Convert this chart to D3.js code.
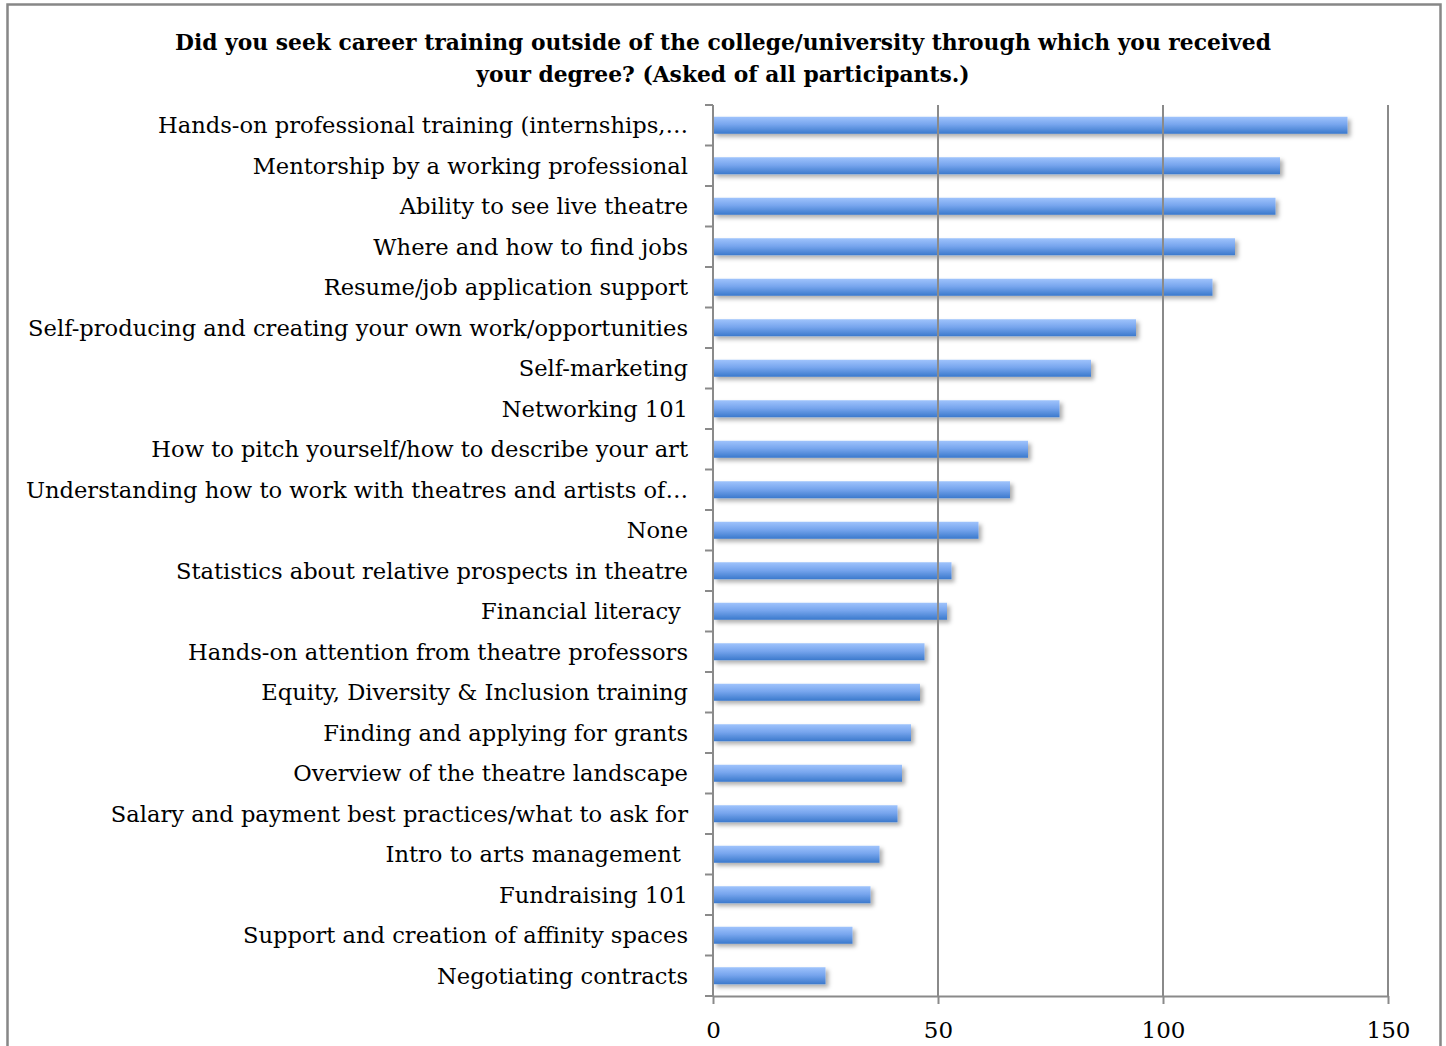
<!DOCTYPE html>
<html>
<head>
<meta charset="utf-8">
<script src="https://cdn.jsdelivr.net/npm/d3@7"></script>
<style>
  html, body { margin: 0; padding: 0; background: #fff; }
  svg { display: block; }
  .cat text { white-space: pre; }
</style>
</head>
<body>
<script>
// Responses: what career training participants sought outside their degree institution
const categories = [
  "Hands-on professional training (internships,\u2026",
  "Mentorship by a working professional",
  "Ability to see live theatre",
  "Where and how to find jobs",
  "Resume/job application support",
  "Self-producing and creating your own work/opportunities",
  "Self-marketing",
  "Networking 101",
  "How to pitch yourself/how to describe your art",
  "Understanding how to work with theatres and artists of\u2026",
  "None",
  "Statistics about relative prospects in theatre",
  "Financial literacy ",
  "Hands-on attention from theatre professors",
  "Equity, Diversity & Inclusion training",
  "Finding and applying for grants",
  "Overview of the theatre landscape",
  "Salary and payment best practices/what to ask for",
  "Intro to arts management ",
  "Fundraising 101",
  "Support and creation of affinity spaces",
  "Negotiating contracts"
];
const counts = [141, 126, 125, 116, 111, 94, 84, 77, 70, 66, 59, 53, 52, 47, 46, 44, 42, 41, 37, 35, 31, 25];
const xTicks = [0, 50, 100, 150];
const titleLines = [
  "Did you seek career training outside of the college/university through which you received",
  "your degree? (Asked of all participants.)"
];

const W = 1446, H = 1046;
const margin = { top: 105, left: 713, right: 58, bottom: 50 };
const plotW = W - margin.left - margin.right; // 0..150 → 713..1388
const plotH = H - margin.top - margin.bottom; // 105..996

const svg = d3.select("body").append("svg").attr("width", W).attr("height", H);

const defs = svg.append("defs");
const grad = defs.append("linearGradient").attr("id", "barFill")
  .attr("x1", 0).attr("y1", 0).attr("x2", 0).attr("y2", 1);
grad.append("stop").attr("offset", "0%").attr("stop-color", "#9fc3fc");
grad.append("stop").attr("offset", "45%").attr("stop-color", "#78a6ee");
grad.append("stop").attr("offset", "100%").attr("stop-color", "#3b79cc");
const shadow = defs.append("filter").attr("id", "barShadow")
  .attr("x", "-5%").attr("y", "-50%").attr("width", "115%").attr("height", "250%");
shadow.append("feDropShadow").attr("dx", 3).attr("dy", 3).attr("stdDeviation", 2.2)
  .attr("flood-color", "#000").attr("flood-opacity", 0.32);

// outer frame
svg.append("rect").attr("x", 7.5).attr("y", 4.5).attr("width", 1433).attr("height", H + 10)
  .attr("fill", "none").attr("stroke", "#878787").attr("stroke-width", 2.5);

// title
const title = svg.append("text").attr("text-anchor", "middle")
  .attr("font-family", "'DejaVu Serif', serif").attr("font-weight", "bold")
  .attr("font-size", 21.8).attr("fill", "#000");
titleLines.forEach((t, i) => {
  title.append("tspan").attr("x", 723).attr("y", 50 + i * 32).text(t);
});

const x = d3.scaleLinear().domain([0, 150]).range([margin.left, margin.left + plotW]);
const y = d3.scaleBand().domain(categories).range([margin.top, margin.top + plotH]).paddingInner(0.58).paddingOuter(0.29);

// bars
svg.append("g").selectAll("rect").data(categories).join("rect")
  .attr("x", x(0))
  .attr("y", d => y(d))
  .attr("width", (d, i) => x(counts[i]) - x(0))
  .attr("height", y.bandwidth())
  .attr("fill", "url(#barFill)")
  .attr("filter", "url(#barShadow)");

// vertical gridlines drawn above the bars
svg.append("g").selectAll("line").data(xTicks.filter(v => v > 0)).join("line")
  .attr("x1", d => x(d)).attr("x2", d => x(d))
  .attr("y1", margin.top).attr("y2", margin.top + plotH)
  .attr("stroke", "#8a8a8a").attr("stroke-width", 2);

// x axis
const xAxis = svg.append("g").attr("transform", `translate(0,${margin.top + plotH})`)
  .call(d3.axisBottom(x).tickValues(xTicks).tickSize(8).tickPadding(18).tickSizeOuter(0));
xAxis.select(".domain").attr("stroke", "#8a8a8a").attr("stroke-width", 2);
xAxis.selectAll(".tick line").attr("stroke", "#8a8a8a").attr("stroke-width", 2);
xAxis.selectAll(".tick text").attr("font-family", "'DejaVu Serif', serif")
  .attr("font-size", 23).attr("fill", "#000");

// y axis: ticks at category boundaries
const yAxis = svg.append("g").attr("class", "cat").attr("transform", `translate(${margin.left},0)`);
yAxis.append("line").attr("x1", 0).attr("x2", 0)
  .attr("y1", margin.top).attr("y2", margin.top + plotH)
  .attr("stroke", "#8a8a8a").attr("stroke-width", 2);
const bounds = d3.range(categories.length + 1).map(i => margin.top + i * plotH / categories.length);
yAxis.selectAll("line.tk").data(bounds).join("line").attr("class", "tk")
  .attr("x1", -8).attr("x2", 0).attr("y1", d => d).attr("y2", d => d)
  .attr("stroke", "#8a8a8a").attr("stroke-width", 2);
yAxis.selectAll("text").data(categories).join("text")
  .attr("x", -25)
  .attr("y", d => y(d) + y.bandwidth() / 2)
  .attr("dy", "0.35em")
  .attr("text-anchor", "end")
  .attr("font-family", "'DejaVu Serif', serif")
  .attr("font-size", 22.6)
  .attr("fill", "#000")
  .text(d => d);
</script>
</body>
</html>
